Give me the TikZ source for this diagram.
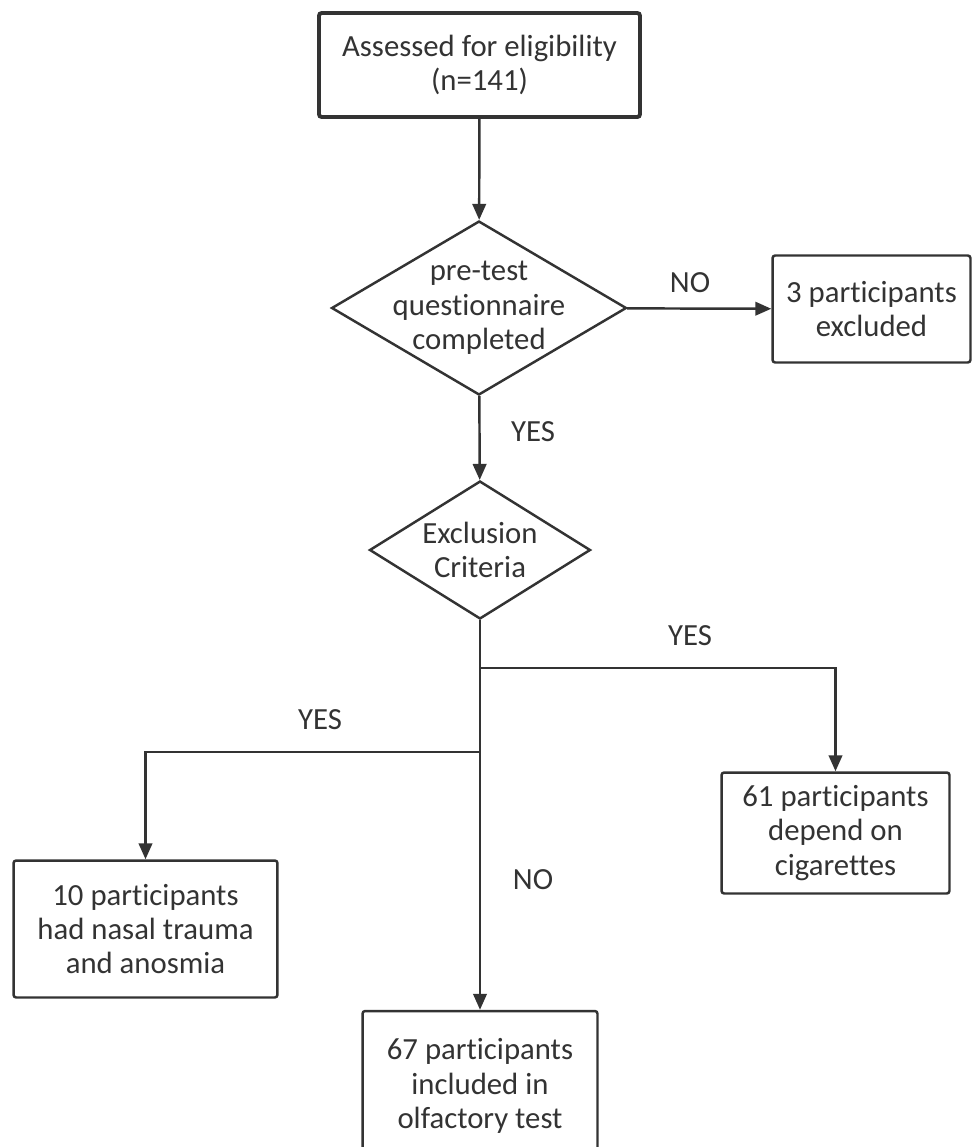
\documentclass[tikz,border=0pt]{standalone}
\usepackage{fontspec}
\setmainfont[Ligatures=NoCommon]{Carlito}
\usepackage{tikz}
\usetikzlibrary{shapes.geometric,arrows.meta}
\definecolor{fcLine}{HTML}{333333}

\begin{document}
\begin{tikzpicture}[x=0.02cm, y=-0.02cm,
    every node/.style={font=\fontsize{17.5}{19.6}\selectfont, text=fcLine, align=center},
    box/.style={rectangle, draw=fcLine, line width=1.4pt, rounded corners=1.5pt, inner sep=0pt},
    dec/.style={diamond, draw=fcLine, line width=1.4pt, inner sep=-1.5cm, shape aspect=1.7},
    arr/.style={-{Triangle[length=0.32cm, width=0.27cm]}, draw=fcLine, line width=1.4pt},
    lbl/.style={inner sep=0pt}
  ]
  \clip (0,0) rectangle (972,1147);

  \node[box, line width=2.2pt, minimum width=6.42cm, minimum height=2.08cm] (start) at (479.5,65)
    {Assessed for eligibility\\(n=141)};
  \node[dec, minimum width=5.9cm, minimum height=3.48cm] (quest) at (479,308)
    {pre-test\\questionnaire\\completed};
  \node[box, minimum width=3.96cm, minimum height=2.14cm] (excl) at (871.5,309)
    {3 participants\\excluded};
  \node[dec, minimum width=4.42cm, minimum height=2.76cm] (crit) at (480,550)
    {Exclusion\\Criteria};
  \node[box, minimum width=4.56cm, minimum height=2.42cm] (cig) at (835.5,833)
    {61 participants\\depend on\\cigarettes};
  \node[box, minimum width=5.28cm, minimum height=2.74cm] (nasal) at (145.5,929)
    {10 participants\\had nasal trauma\\and anosmia};
  \node[box, minimum width=4.7cm, minimum height=3.0cm] (incl) at (480,1086)
    {67 participants\\included in\\olfactory test};

  \coordinate (jcig) at (480,668);
  \coordinate (jnasal) at (480,752);

  \draw[arr] (start) -- (quest);
  \draw[arr] (quest) -- (excl);
  \draw[arr] (quest) -- (crit);
  \draw[arr] (crit) -- (incl);
  \draw[arr] (jcig) -| (cig);
  \draw[arr] (jnasal) -| (nasal);

  \node[lbl] (no1)  at (690,283) {NO};
  \node[lbl] (yes1) at (533,432) {YES};
  \node[lbl] (yes2) at (690,636) {YES};
  \node[lbl] (yes3) at (320,720) {YES};
  \node[lbl] (no2)  at (533,880) {NO};
\end{tikzpicture}
\end{document}
